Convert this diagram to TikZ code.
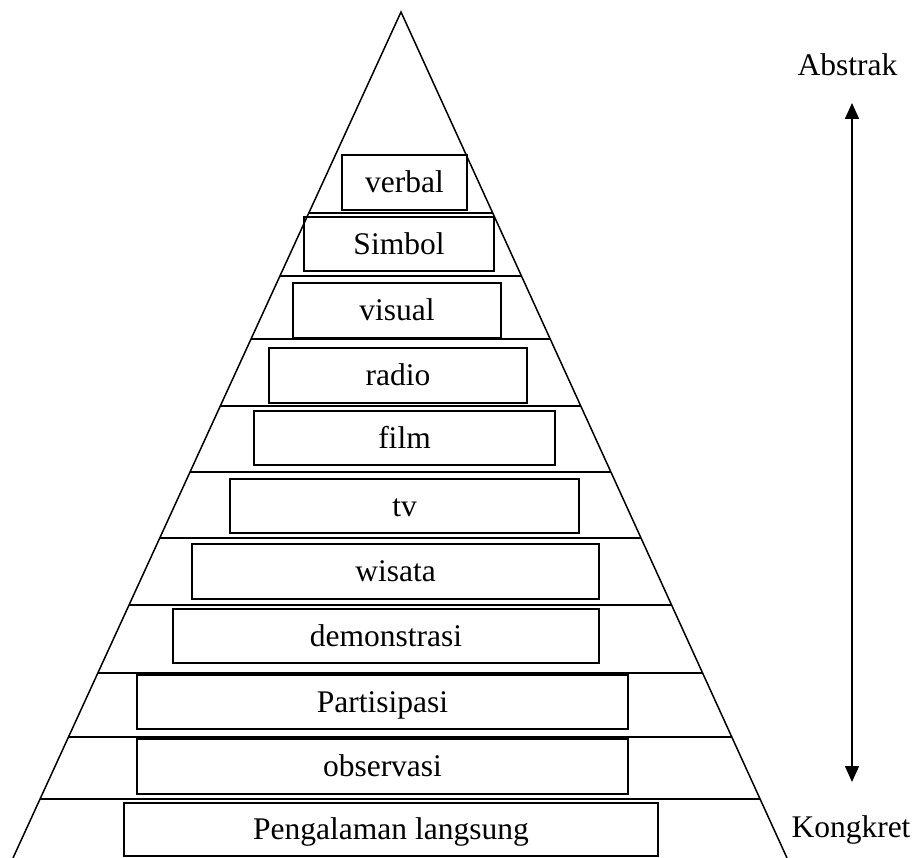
\documentclass[tikz,border=0pt]{standalone}
\usepackage{fontspec}
\setmainfont{Liberation Serif}
\usetikzlibrary{calc,arrows.meta}
\begin{document}
\begin{tikzpicture}[x=1pt,y=-1pt,
  tri/.style={line width=1.5pt},
  sep/.style={line width=1.5pt},
  lvl/.style={draw,line width=1.8pt,inner sep=0pt,font=\fontsize{31.5}{36}\selectfont,text height=20.9pt,text depth=0pt,anchor=center},
  lbl/.style={inner sep=0pt,font=\fontsize{31.5}{36}\selectfont,anchor=base},
  axis/.style={line width=1.6pt,{Triangle[width=14pt,length=16pt]}-{Triangle[width=14pt,length=16pt]}}]
\useasboundingbox (0,0) rectangle (924,858);
\coordinate (A) at (401,12);
\coordinate (BL) at (13,858);
\coordinate (BR) at (787,858);
\draw[tri] (BL) -- (A) -- (BR);
\foreach \t in {0.2376,0.3121,0.3865,0.4657,0.5437,0.6217,0.7009,0.7813,0.8570,0.9303}
  \draw[sep] ($(A)!\t!(BL)$) -- ($(A)!\t!(BR)$);
\node[lvl,minimum width=125pt,minimum height=55pt] (verbal) at (404.5,182.5) {verbal};
\node[lvl,minimum width=190pt,minimum height=54pt] (simbol) at (399,244) {Simbol};
\node[lvl,minimum width=208pt,minimum height=55pt] (visual) at (397,310.5) {visual};
\node[lvl,minimum width=258pt,minimum height=55pt] (radio) at (398,375.5) {radio};
\node[lvl,minimum width=301pt,minimum height=54pt] (film) at (404.5,438) {film};
\node[lvl,minimum width=349pt,minimum height=54pt] (tv) at (404.5,506) {tv};
\node[lvl,minimum width=407pt,minimum height=55pt] (wisata) at (395.5,571.5) {wisata};
\node[lvl,minimum width=426pt,minimum height=54pt] (demo) at (386,636) {demonstrasi};
\node[lvl,minimum width=491pt,minimum height=54pt] (parti) at (382.5,702) {Partisipasi};
\node[lvl,minimum width=491pt,minimum height=55pt] (obs) at (382.5,766.5) {observasi};
\node[lvl,minimum width=534pt,minimum height=53pt] (peng) at (391,829.5) {Pengalaman langsung};
\node[lbl] (abstrak) at (847.5,76) {Abstrak};
\node[lbl] (kongkret) at (851,837) {Kongkret};
\coordinate (top) at (852,103);
\coordinate (bot) at (852,782);
\draw[axis] (bot) -- (top);
\end{tikzpicture}
\end{document}
